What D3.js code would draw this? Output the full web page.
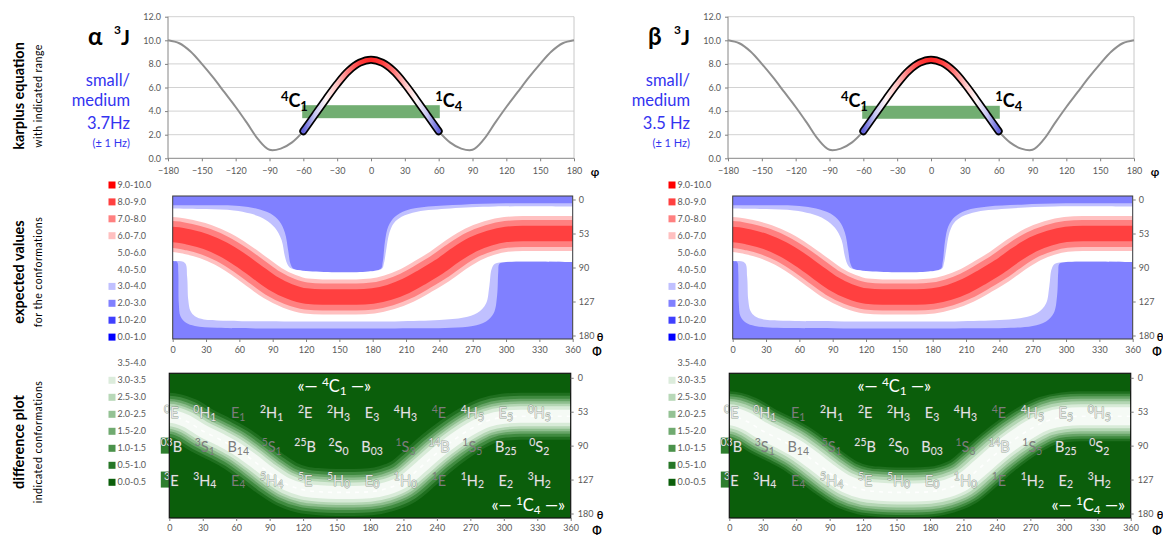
<!DOCTYPE html>
<html>
<head>
<meta charset="utf-8">
<script src="https://cdn.jsdelivr.net/npm/d3@7/dist/d3.min.js"></script>
<style>
  html, body { margin: 0; padding: 0; background: #ffffff; }
  svg { display: block; }
</style>
</head>
<body>
<svg id="chart" width="1163" height="536"></svg>
<script>
// ---------------- data ----------------
// Karplus curve: H-C-C-H torsion angle (deg) -> 3J coupling (Hz)
const karplusPhi = [-180,-170,-160,-150,-140,-130,-120,-110,-100,-90,-80,-70,-60,-50,-40,-30,-20,-10,0,
                    10,20,30,40,50,60,70,80,90,100,110,120,130,140,150,160,170,180];
const karplusJ   = [10.0,9.75,9.05,8.0,6.85,5.6,4.35,3.0,1.6,0.72,0.82,1.35,2.3,3.65,5.0,6.3,7.4,8.1,8.35,
                    8.1,7.4,6.3,5.0,3.65,2.3,1.35,0.82,0.72,1.6,3.0,4.35,5.6,6.85,8.0,9.05,9.75,10.0];
const jTicks      = [0, 2, 4, 6, 8, 10, 12];
const phiTicks    = [-180,-150,-120,-90,-60,-30,0,30,60,90,120,150,180];
const chairRange  = [-60, 60];           // torsion span between 4C1 and 1C4
const alphaObserved = [3.4, 4.5];        // indicated J range, alpha anomer
const betaObserved  = [3.35, 4.45];      // indicated J range, beta anomer

// Conformational map axes (Cremer-Pople Phi / theta)
const bigPhiTicks = [0,30,60,90,120,150,180,210,240,270,300,330,360];
const thetaTicks  = [0, 53, 90, 127, 180];

// Expected values: ridge of maximum 3J across the map [Phi, theta]
const expectedRidge = [[0,54],[15,57],[30,62],[45,70],[60,81],[75,94],[90,107],[105,116],[120,121],[135,122],
                       [150,122],[165,122],[180,121],[195,117],[210,110],[225,100],[240,89],[255,76],[270,65],
                       [285,58],[300,54],[315,53],[330,53],[345,53],[360,53]];
// contour J = 3 Hz (upper and lower branch) [Phi, theta]
const j3Upper = [[0,9],[30,9],[60,10],[75,14],[88,22],[96,34],[101,52],[104,72],[106,86],[109,91.5],[187,91.5],
                 [189,84],[191,62],[194,42],[200,27],[210,17],[230,11],[260,8],[300,6],[360,6]];
const j3Lower = [[0,83],[4,84],[5,95],[5.5,130],[7,150],[12,160],[20,165],[40,168],[100,169],[200,169],[250,168],
                 [270,165],[282,158],[289,145],[292,120],[293,95],[294,86],[300,84],[360,84]];
// contour J = 4 Hz (upper and lower branch)
const j4Upper = [[0,14],[30,15],[55,17],[70,22],[83,31],[92,44],[98,60],[101,78],[104,88],[108,91.5],[188,91.5],
                 [190,86],[192,72],[195,52],[199,37],[206,27],[220,19],[250,14],[290,11],[360,11]];
const j4Lower = [[0,83],[11,85],[13,100],[14,125],[16,142],[20,150],[28,155],[45,157],[100,158],[200,158],
                 [240,156],[262,152],[274,145],[282,130],[285,110],[287,92],[290,86],[300,84],[360,84]];

// Difference plot: ridge of the largest difference [Phi, theta]
const diffRidgeAlpha = [[0,58],[15,63],[30,74],[45,83],[60,93],[75,106],[90,120],[105,134],[120,143],[135,146],
                        [150,147],[165,147],[180,146],[195,141],[210,130],[225,114],[240,98],[255,84],[270,72],
                        [285,63],[300,59],[315,58],[330,58],[345,58],[360,58]];
const diffRidgeBeta  = [[0,58],[15,63],[30,74],[45,83],[60,93],[75,106],[90,120],[105,134],[120,143],[135,146],
                        [150,147],[165,147],[180,146],[195,141],[210,130],[225,114],[240,98],[255,84],[270,72],
                        [285,63],[300,59],[315,58],[330,58],[345,58],[360,58]];

// Legend classes
const expectedClasses = ["9.0-10.0","8.0-9.0","7.0-8.0","6.0-7.0","5.0-6.0","4.0-5.0","3.0-4.0","2.0-3.0","1.0-2.0","0.0-1.0"];
const diffClasses     = ["3.5-4.0","3.0-3.5","2.5-3.0","2.0-2.5","1.5-2.0","1.0-1.5","0.5-1.0","0.0-0.5"];

// Conformer labels on the map: [superscript, letter, subscript]
const conformerPhi   = [0,30,60,90,120,150,180,210,240,270,300,330];
const conformerTheta = [53, 90, 127];
const conformersTheta53  = [["0","E",""],["0","H","1"],["","E","1"],["2","H","1"],["2","E",""],["2","H","3"],
                            ["","E","3"],["4","H","3"],["4","E",""],["4","H","5"],["","E","5"],["0","H","5"]];
const conformersTheta90  = [["03","B",""],["3","S","1"],["","B","14"],["5","S","1"],["25","B",""],["2","S","0"],
                            ["","B","03"],["1","S","3"],["14","B",""],["1","S","5"],["","B","25"],["0","S","2"]];
const conformersTheta127 = [["3","E",""],["3","H","4"],["","E","4"],["5","H","4"],["5","E",""],["5","H","0"],
                            ["","E","0"],["1","H","0"],["1","E",""],["1","H","2"],["","E","2"],["3","H","2"]];
const mutedConformers = ["E1","4E","3S1","B14","5S1","1S3","1S5","E4","1E"];
const chairLabels = [{phi:148, theta:14, sup:"4", sub:"1"}, {phi:322, theta:168, sup:"1", sub:"4"}];

// ---------------- styles ----------------
const FONT = "Lato, 'Open Sans', 'Liberation Sans', sans-serif";
const TICK_COLOR = "#595959";
const expectedColors = ["#ff0000","#ff4040","#ff8080","#ffc0c0","#ffffff","#ffffff","#c0c0ff","#8080ff","#4040ff","#0000ff"];
const diffColors     = ["#ffffff","#dcecdc","#b8d8b8","#94c294","#70aa70","#4b924b","#277727","#0b5e0b"];
const ridgeBandWidths = [35, 27, 15.5];             // 6-7, 7-8, 8-9 Hz tubes (px)
const ridgeBandColors = ["#ffc0c0", "#ff8080", "#ff4040"];
const diffBandWidths  = {alpha: [47, 41, 35, 30, 25, 20, 13], beta: [50, 45, 40, 35, 30, 24, 18]};
const diffBandColors  = ["#1f6f1f","#3f8a3f","#66a466","#8ebe8e","#b4d6b4","#d8ebd8","#f5faf5"];
const LABEL_COLOR = "#e4e4e4", MUTED_COLOR = "#7c7c7c";

const columns = [
  {key: "alpha", dx: 0,   letter: "\u03b1", jText: "3.7Hz",  observed: alphaObserved, diffRidge: diffRidgeAlpha},
  {key: "beta",  dx: 560, letter: "\u03b2", jText: "3.5 Hz", observed: betaObserved,  diffRidge: diffRidgeBeta}
];

const svg = d3.select("#chart").attr("font-family", FONT);

function styleAxis(sel) {
  sel.attr("font-family", FONT);
  sel.select(".domain").remove();
  sel.selectAll(".tick line").attr("stroke", "#7f7f7f");
  sel.selectAll(".tick text").attr("fill", TICK_COLOR).attr("font-size", 9);
}
function rowPositions(top, bottom, inset) {
  const step = (bottom - top - 2 * inset) / (thetaTicks.length - 1);
  return thetaTicks.map((d, i) => top + inset + i * step);
}
function scripted(text, sup, base, sub, fs) {
  if (sup) text.append("tspan").attr("font-size", fs * 0.72).attr("dy", -fs * 0.36).text(sup);
  text.append("tspan").attr("dy", sup ? fs * 0.36 : 0).text(base);
  if (sub) text.append("tspan").attr("font-size", fs * 0.72).attr("dy", fs * 0.2).text(sub);
}
function pad(pts, lo, hi) {
  return [[lo, pts[0][1]], ...pts, [hi, pts[pts.length - 1][1]]];
}

// ---------------- row titles ----------------
const rowTitles = [
  {main: "karplus equation", sub: "with indicated range", cy: 96},
  {main: "expected values", sub: "for the conformations", cy: 272},
  {main: "difference plot", sub: "indicated conformations", cy: 442}
];
rowTitles.forEach(r => {
  svg.append("text").attr("transform", `translate(24,${r.cy}) rotate(-90)`)
    .attr("text-anchor", "middle").attr("font-size", 14.5).attr("font-weight", 700).attr("fill", "#000")
    .text(r.main);
  svg.append("text").attr("transform", `translate(42,${r.cy}) rotate(-90)`)
    .attr("text-anchor", "middle").attr("font-size", 10.5).attr("letter-spacing", 0.5).attr("fill", "#000")
    .text(r.sub);
});

// ---------------- one column per anomer ----------------
columns.forEach(col => {
  const g = svg.append("g").attr("transform", `translate(${col.dx},0)`);
  const defs = g.append("defs");

  // ---- header ----
  const title = g.append("text").attr("y", 45).attr("font-weight", 700).attr("fill", "#000");
  title.append("tspan").attr("x", 88).attr("font-size", 24).text(col.letter);
  title.append("tspan").attr("x", 114).attr("dy", -11).attr("font-size", 12).text("3");
  title.append("tspan").attr("x", 121).attr("dy", 11).attr("font-size", 21).text("J");

  const blue = "#3434f0";
  const bt = g.append("g").attr("fill", blue).attr("text-anchor", "end");
  bt.append("text").attr("x", 130).attr("y", 86).attr("font-size", 16.5).text("small/");
  bt.append("text").attr("x", 130).attr("y", 106).attr("font-size", 16.5).text("medium");
  bt.append("text").attr("x", 130).attr("y", 129).attr("font-size", 16.5).text(col.jText);
  bt.append("text").attr("x", 130).attr("y", 147).attr("font-size", 11).text("(\u00b1 1 Hz)");

  // ---- Karplus panel ----
  const xK = d3.scaleLinear().domain([-180, 180]).range([168, 574]);
  const yK = d3.scaleLinear().domain([0, 12]).range([158.3, 16.7]);

  g.append("g").selectAll("line").data(jTicks.slice(1)).join("line")
    .attr("x1", xK(-180)).attr("x2", xK(180)).attr("y1", d => yK(d)).attr("y2", d => yK(d))
    .attr("stroke", "#d2d2d2").attr("stroke-width", 1);
  g.append("line").attr("x1", xK(180)).attr("x2", xK(180)).attr("y1", yK(0)).attr("y2", yK(12))
    .attr("stroke", "#c8c8c8");

  const yAxK = g.append("g").attr("transform", `translate(${xK(-180)},0)`)
    .call(d3.axisLeft(yK).tickValues(jTicks).tickSize(3).tickPadding(4).tickFormat(d3.format(".1f")));
  styleAxis(yAxK);
  g.append("line").attr("x1", xK(-180)).attr("x2", xK(-180)).attr("y1", yK(0)).attr("y2", yK(12)).attr("stroke", "#868686");
  const xAxK = g.append("g").attr("transform", `translate(0,${yK(0)})`)
    .call(d3.axisBottom(xK).tickValues(phiTicks).tickSize(3).tickPadding(6));
  styleAxis(xAxK);
  g.append("line").attr("x1", xK(-180)).attr("x2", xK(180)).attr("y1", yK(0)).attr("y2", yK(0)).attr("stroke", "#868686");
  g.append("text").attr("x", 595).attr("y", 176).attr("text-anchor", "middle")
    .attr("font-size", 11).attr("font-weight", 700).text("\u03c6");

  const karplus = karplusPhi.map((p, i) => [p, karplusJ[i]]);
  const kLine = d3.line().x(d => xK(d[0])).y(d => yK(d[1])).curve(d3.curveCatmullRom.alpha(0.5));
  g.append("path").attr("d", kLine(karplus)).attr("fill", "none")
    .attr("stroke", "#8f8f8f").attr("stroke-width", 2);

  // indicated J range
  g.append("rect")
    .attr("x", xK(chairRange[0] - 1)).attr("width", xK(chairRange[1] + 1) - xK(chairRange[0] - 1))
    .attr("y", yK(col.observed[1])).attr("height", yK(col.observed[0]) - yK(col.observed[1]))
    .attr("fill", "#72ae72");

  // chair-to-chair torsion segment, coloured by J
  const seg = karplus.filter(d => d[0] >= chairRange[0] && d[0] <= chairRange[1]);
  const jColor = d3.scaleLinear().domain([2.2, 3.4, 4.5, 5.6, 7.0, 8.4])
    .range(["#5c5cd8", "#b4b4f0", "#ffffff", "#ffeaea", "#ff9a9a", "#ff2424"]);
  const grad = defs.append("linearGradient").attr("id", `seg-${col.key}`)
    .attr("gradientUnits", "userSpaceOnUse")
    .attr("x1", xK(chairRange[0])).attr("x2", xK(chairRange[1])).attr("y1", 0).attr("y2", 0);
  seg.forEach(d => grad.append("stop")
    .attr("offset", (d[0] - chairRange[0]) / (chairRange[1] - chairRange[0]))
    .attr("stop-color", jColor(d[1])));
  g.append("path").attr("d", kLine(seg)).attr("fill", "none")
    .attr("stroke", "#000").attr("stroke-width", 8).attr("stroke-linecap", "round");
  g.append("path").attr("d", kLine(seg)).attr("fill", "none")
    .attr("stroke", `url(#seg-${col.key})`).attr("stroke-width", 4.6).attr("stroke-linecap", "round");

  const c1 = g.append("text").attr("x", xK(-56)).attr("y", 107).attr("text-anchor", "end")
    .attr("font-size", 18).attr("font-weight", 700);
  scripted(c1, "4", "C", "1", 18);
  const c4 = g.append("text").attr("x", xK(57)).attr("y", 107).attr("text-anchor", "start")
    .attr("font-size", 18).attr("font-weight", 700);
  scripted(c4, "1", "C", "4", 18);

  // ---- expected values map ----
  const mTop = 196, mBottom = 339;
  const xM = d3.scaleLinear().domain([0, 360]).range([172.7, 572.7]);
  const yM = d3.scaleLinear().domain(thetaTicks).range(rowPositions(mTop, mBottom, 3.5));
  defs.append("clipPath").attr("id", `clip-m-${col.key}`).append("rect")
    .attr("x", xM(0)).attr("y", mTop).attr("width", xM(360) - xM(0)).attr("height", mBottom - mTop);
  const m = g.append("g").attr("clip-path", `url(#clip-m-${col.key})`);
  m.append("rect").attr("x", xM(0)).attr("y", mTop).attr("width", xM(360) - xM(0)).attr("height", mBottom - mTop)
    .attr("fill", expectedColors[7]);
  const pLine = d3.line().x(d => xM(d[0])).y(d => yM(d[1])).curve(d3.curveCatmullRom.alpha(0.5));
  const region = (upper, lower) => pLine(pad(upper, -6, 366)) +
    pLine(pad(lower, -6, 366).slice().reverse()).replace(/^M/, "L") + "Z";
  m.append("path").attr("d", region(j3Upper, j3Lower)).attr("fill", expectedColors[6]);
  m.append("path").attr("d", region(j4Upper, j4Lower)).attr("fill", expectedColors[5]);
  const rLine = d3.line().x(d => xM(d[0])).y(d => yM(d[1])).curve(d3.curveMonotoneX);
  ridgeBandWidths.forEach((w, i) => {
    m.append("path").attr("d", rLine(pad(expectedRidge, -25, 385))).attr("fill", "none")
      .attr("stroke", ridgeBandColors[i]).attr("stroke-width", w);
  });
  g.append("rect").attr("x", xM(0)).attr("y", mTop).attr("width", xM(360) - xM(0)).attr("height", mBottom - mTop)
    .attr("fill", "none").attr("stroke", "#3a3a3a").attr("stroke-width", 1);

  const xAxM = g.append("g").attr("transform", `translate(0,${mBottom})`)
    .call(d3.axisBottom(xM).tickValues(bigPhiTicks).tickSize(3).tickPadding(5));
  styleAxis(xAxM);
  const yAxM = g.append("g").attr("transform", `translate(${xM(360)},0)`)
    .call(d3.axisRight(yM).tickValues(thetaTicks).tickSize(3).tickPadding(3));
  styleAxis(yAxM);
  g.append("text").attr("x", 600).attr("y", 341).attr("text-anchor", "middle")
    .attr("font-size", 11).attr("font-weight", 700).text("\u03b8");
  g.append("text").attr("x", 597).attr("y", 355).attr("text-anchor", "middle")
    .attr("font-size", 11).attr("font-weight", 700).text("\u03a6");

  // legend
  const lg = g.append("g");
  expectedClasses.forEach((c, i) => {
    const y = 185 + i * 16.9;
    if (expectedColors[i] !== "#ffffff")
      lg.append("rect").attr("x", 108.5).attr("y", y - 3.5).attr("width", 7).attr("height", 7).attr("fill", expectedColors[i]);
    lg.append("text").attr("x", 117.5).attr("y", y + 3).attr("font-size", 9).attr("fill", TICK_COLOR).text(c);
  });

  // ---- difference map ----
  const dTop = 373.3, dBottom = 518;
  const xD = d3.scaleLinear().domain([0, 360]).range([169.3, 570.7]);
  const yD = d3.scaleLinear().domain(thetaTicks).range(rowPositions(dTop, dBottom, 4.5));
  defs.append("clipPath").attr("id", `clip-d-${col.key}`).append("rect")
    .attr("x", xD(0)).attr("y", dTop).attr("width", xD(360) - xD(0)).attr("height", dBottom - dTop);
  const dm = g.append("g").attr("clip-path", `url(#clip-d-${col.key})`);
  dm.append("rect").attr("x", xD(0)).attr("y", dTop).attr("width", xD(360) - xD(0)).attr("height", dBottom - dTop)
    .attr("fill", diffColors[7]);
  const dLine = d3.line().x(d => xD(d[0])).y(d => yD(d[1])).curve(d3.curveMonotoneX);
  const ridgePath = dLine(pad(col.diffRidge, -25, 385));
  diffBandWidths[col.key].forEach((w, i) => {
    dm.append("path").attr("d", ridgePath).attr("fill", "none")
      .attr("stroke", diffBandColors[i]).attr("stroke-width", w);
  });
  dm.append("path").attr("d", ridgePath).attr("fill", "none").attr("stroke", "#ffffff")
    .attr("stroke-width", 1.6).attr("stroke-dasharray", "4,5").attr("opacity", 0.9);

  // tabs behind the edge labels at Phi = 0
  [90, 127].forEach(t => {
    g.append("rect").attr("x", xD(0) - 8.5).attr("y", yD(t) - 8).attr("width", 8.5).attr("height", 16)
      .attr("fill", "#2e7e2e");
  });

  const rows = [conformersTheta53, conformersTheta90, conformersTheta127];
  rows.forEach((row, r) => {
    row.forEach((c, k) => {
      const key = c[0] + c[1] + c[2];
      const muted = mutedConformers.includes(key);
      const t = g.append("text").attr("x", xD(conformerPhi[k]) + 2).attr("y", yD(conformerTheta[r]) + 6)
        .attr("text-anchor", "middle").attr("font-size", 14.5)
        .attr("fill", muted ? MUTED_COLOR : LABEL_COLOR);
      if (!muted) {
        t.attr("stroke", "rgba(70,95,70,0.55)").attr("stroke-width", 0.9)
          .attr("paint-order", "stroke").attr("stroke-linejoin", "round");
      }
      scripted(t, c[0], c[1], c[2], 14.5);
    });
  });
  chairLabels.forEach(cl => {
    const t = g.append("text").attr("x", xD(cl.phi)).attr("y", yD(cl.theta) + 5)
      .attr("text-anchor", "middle").attr("font-size", 16.5).attr("fill", "#ffffff");
    t.append("tspan").text("\u00ab\u2014 ");
    scripted(t, cl.sup, "C", cl.sub, 16.5);
    t.append("tspan").attr("dy", -16.5 * 0.2).text(" \u2014\u00bb");
  });

  g.append("rect").attr("x", xD(0)).attr("y", dTop).attr("width", xD(360) - xD(0)).attr("height", dBottom - dTop)
    .attr("fill", "none").attr("stroke", "#111").attr("stroke-width", 1.2);
  const xAxD = g.append("g").attr("transform", `translate(0,${dBottom})`)
    .call(d3.axisBottom(xD).tickValues(bigPhiTicks).tickSize(3).tickPadding(4));
  styleAxis(xAxD);
  const yAxD = g.append("g").attr("transform", `translate(${xD(360)},0)`)
    .call(d3.axisRight(yD).tickValues(thetaTicks).tickSize(3).tickPadding(4));
  styleAxis(yAxD);
  g.append("text").attr("x", 600).attr("y", 519).attr("text-anchor", "middle")
    .attr("font-size", 11).attr("font-weight", 700).text("\u03b8");
  g.append("text").attr("x", 597).attr("y", 534).attr("text-anchor", "middle")
    .attr("font-size", 11).attr("font-weight", 700).text("\u03a6");

  const dl = g.append("g");
  diffClasses.forEach((c, i) => {
    const y = 363.3 + i * 17;
    if (diffColors[i] !== "#ffffff")
      dl.append("rect").attr("x", 108.5).attr("y", y - 3.5).attr("width", 7).attr("height", 7).attr("fill", diffColors[i]);
    dl.append("text").attr("x", 117.5).attr("y", y + 3).attr("font-size", 9).attr("fill", TICK_COLOR).text(c);
  });
});
</script>
</body>
</html>
